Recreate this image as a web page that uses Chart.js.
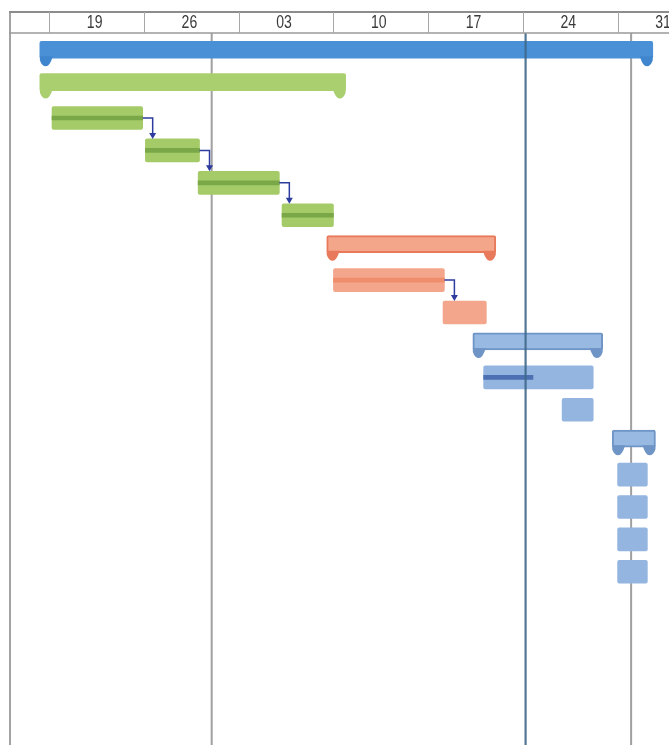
<!DOCTYPE html>
<html>
<head>
<meta charset="utf-8">
<style>
  html, body { margin: 0; padding: 0; background: #ffffff; }
  #wrap { width: 669px; height: 745px; position: relative; }
</style>
<script src="https://cdn.jsdelivr.net/npm/chart.js@4.4.1/dist/chart.umd.min.js"></script>
</head>
<body>
<div id="wrap"><canvas id="c"></canvas></div>
<script>
// ---------- DATA (days counted from the week labelled "19") ----------
const rowIds = ['1','2','3','4','5','6','7','8','9','10','11','12','13','14','15','16','17'];
const rowKinds = ['summary','summary','task','task','task','task','summary','task','task','summary','task','task','summary','task','task','task','task'];
const rowGroups = ['project','green','green','green','green','green','orange','orange','orange','blue','blue','blue','blue','blue','blue','blue','blue'];
const startDays = [-0.7, -0.7, 0.2, 7.1, 11.0, 17.2, 20.5, 21.0, 29.1, 31.3, 32.1, 37.9, 41.6, 42.0, 42.0, 42.0, 42.0];
const endDays   = [44.6, 21.9, 6.9, 11.1, 17.0, 21.0, 33.0, 29.2, 32.3, 40.9, 40.2, 40.2, 44.8, 44.2, 44.2, 44.2, 44.2];
const progressPct = [0, 0, 100, 100, 100, 100, 0, 100, 0, 0, 45, 0, 0, 0, 0, 0, 0];
const links = [[2, 3], [3, 4], [4, 5], [7, 8]];
const weekTickDays = [0, 7, 14, 21, 28, 35, 42];
const weekTickLabels = ['19', '26', '03', '10', '17', '24', '31'];
const monthLineDays = [12, 43];
const currentDay = 35.2;
const axisMinDay = -2.98;
const axisMaxDay = 45.8;

// ---------- STYLES ----------
const palette = {
  project: { summary: '#4a90d6', border: '#3f86cf', task: '#4a90d6', prog: '#2f6fb0' },
  green:   { summary: '#a9cf6f', border: '#a9cf6f', task: '#a5cb68', prog: '#7aa747' },
  orange:  { summary: '#f4a68b', border: '#e8795a', task: '#f4a68c', prog: '#ef8d6c' },
  blue:    { summary: '#98b9e1', border: '#6f94c6', task: '#93b5df', prog: '#4d70b2' }
};
const HEADER_TOP = 12, HEADER_BOTTOM = 33;
const SUMMARY_SHIFT = -3.5;

const summaryData = rowIds.map((_, i) => rowKinds[i] === 'summary' ? [startDays[i], endDays[i]] : null);
const taskData = rowIds.map((_, i) => rowKinds[i] === 'task' ? [startDays[i], endDays[i]] : null);
const progressData = rowIds.map((_, i) => (rowKinds[i] === 'task' && progressPct[i] > 0)
  ? [startDays[i], startDays[i] + (endDays[i] - startDays[i]) * progressPct[i] / 100] : null);

const ganttPlugin = {
  id: 'gantt',
  afterDatasetsUpdate(chart) {
    const meta = chart.getDatasetMeta(0);
    meta.data.forEach((el, i) => { if (summaryData[i]) el.y += SUMMARY_SHIFT; });
  },
  beforeDatasetsDraw(chart) {
    const { ctx, scales: { x }, chartArea } = chart;
    const H = chart.height;
    ctx.save();
    ctx.strokeStyle = '#a3a3a3';
    ctx.lineWidth = 2;
    ctx.beginPath();
    ctx.moveTo(chartArea.left + 1, HEADER_TOP);
    ctx.lineTo(chartArea.left + 1, H);
    ctx.stroke();
    ctx.strokeStyle = '#a0a0a0';
    ctx.lineWidth = 2;
    monthLineDays.forEach(d => {
      const px = x.getPixelForValue(d);
      ctx.beginPath();
      ctx.moveTo(px, HEADER_BOTTOM);
      ctx.lineTo(px, H);
      ctx.stroke();
    });
    ctx.restore();
  },
  afterDatasetsDraw(chart) {
    const { ctx, scales: { x } } = chart;
    const H = chart.height;
    const sMeta = chart.getDatasetMeta(0);
    const tMeta = chart.getDatasetMeta(1);
    ctx.save();
    sMeta.data.forEach((el, i) => {
      if (!summaryData[i]) return;
      const L = Math.min(el.x, el.base), R = Math.max(el.x, el.base);
      const by = el.y + el.height / 2;
      const c = palette[rowGroups[i]];
      ctx.fillStyle = c.border;
      ctx.beginPath();
      ctx.moveTo(L, by - 2);
      ctx.lineTo(L, by + 2);
      ctx.quadraticCurveTo(L + 2, by + 8, L + 6, by + 8);
      ctx.quadraticCurveTo(L + 10, by + 8, L + 13, by - 2);
      ctx.closePath();
      ctx.fill();
      ctx.beginPath();
      ctx.moveTo(R, by - 2);
      ctx.lineTo(R, by + 2);
      ctx.quadraticCurveTo(R - 2, by + 8, R - 6, by + 8);
      ctx.quadraticCurveTo(R - 10, by + 8, R - 13, by - 2);
      ctx.closePath();
      ctx.fill();
    });
    ctx.strokeStyle = '#2d3c9e';
    ctx.fillStyle = '#2d3c9e';
    ctx.lineWidth = 1.5;
    links.forEach(([a, b]) => {
      const ea = tMeta.data[a], eb = tMeta.data[b];
      const x1 = Math.max(ea.x, ea.base), y1 = ea.y;
      const xa = x1 + 10;
      const yTop = eb.y - eb.height / 2;
      ctx.beginPath();
      ctx.moveTo(x1, y1);
      ctx.lineTo(xa, y1);
      ctx.lineTo(xa, yTop - 5);
      ctx.stroke();
      ctx.beginPath();
      ctx.moveTo(xa - 3.5, yTop - 6);
      ctx.lineTo(xa + 3.5, yTop - 6);
      ctx.lineTo(xa, yTop);
      ctx.closePath();
      ctx.fill();
    });
    const cx = x.getPixelForValue(currentDay);
    ctx.strokeStyle = 'rgba(62,104,138,0.9)';
    ctx.lineWidth = 2.2;
    ctx.beginPath();
    ctx.moveTo(cx, HEADER_BOTTOM);
    ctx.lineTo(cx, H);
    ctx.stroke();
    ctx.restore();
  },
  afterDraw(chart) {
    const { ctx, scales: { x }, chartArea } = chart;
    const W = chart.width;
    ctx.save();
    ctx.strokeStyle = '#8c8c8c';
    ctx.lineWidth = 2;
    ctx.beginPath();
    ctx.moveTo(chartArea.left, HEADER_TOP);
    ctx.lineTo(W, HEADER_TOP);
    ctx.stroke();
    ctx.lineWidth = 1.5;
    ctx.strokeStyle = '#9a9a9a';
    ctx.beginPath();
    ctx.moveTo(chartArea.left, HEADER_BOTTOM);
    ctx.lineTo(W, HEADER_BOTTOM);
    ctx.stroke();
    ctx.lineWidth = 1;
    ctx.strokeStyle = '#a8a8a8';
    weekTickDays.forEach(d => {
      const px = Math.round(x.getPixelForValue(d)) + 0.5;
      ctx.beginPath();
      ctx.moveTo(px, HEADER_TOP);
      ctx.lineTo(px, HEADER_BOTTOM);
      ctx.stroke();
    });
    // condensed labels
    ctx.fillStyle = '#3a3a3a';
    ctx.font = '18px "Liberation Sans", "DejaVu Sans", sans-serif';
    ctx.textAlign = 'center';
    ctx.textBaseline = 'middle';
    const sx = 0.78;
    weekTickDays.forEach((d, i) => {
      const px = x.getPixelForValue(d + 3.5) - 2;
      ctx.save();
      ctx.translate(px, (HEADER_TOP + HEADER_BOTTOM) / 2 + 1);
      ctx.scale(sx, 1);
      ctx.fillText(weekTickLabels[i], 0, 0);
      ctx.restore();
    });
    ctx.restore();
  }
};

new Chart(document.getElementById('c'), {
  type: 'bar',
  data: {
    labels: rowIds,
    datasets: [
      {
        label: 'Summary',
        data: summaryData,
        barThickness: 17,
        grouped: false,
        backgroundColor: ctx => palette[rowGroups[ctx.dataIndex]].summary,
        borderColor: ctx => palette[rowGroups[ctx.dataIndex]].border,
        borderWidth: ctx => (rowGroups[ctx.dataIndex] === 'orange' || rowGroups[ctx.dataIndex] === 'blue') ? 2 : 0,
        borderSkipped: false,
        borderRadius: 2,
        order: 3
      },
      {
        label: 'Tasks',
        data: taskData,
        barThickness: 23,
        grouped: false,
        backgroundColor: ctx => palette[rowGroups[ctx.dataIndex]].task,
        borderSkipped: false,
        borderRadius: 2,
        order: 2
      },
      {
        label: 'Progress',
        data: progressData,
        barThickness: 4,
        grouped: false,
        backgroundColor: ctx => palette[rowGroups[ctx.dataIndex]].prog,
        borderSkipped: false,
        order: 1
      }
    ]
  },
  options: {
    indexAxis: 'y',
    responsive: true,
    maintainAspectRatio: false,
    animation: false,
    events: [],
    layout: { padding: { left: 9, right: 0, top: 37, bottom: 157 } },
    plugins: { legend: { display: false }, tooltip: { enabled: false } },
    scales: {
      x: { type: 'linear', min: axisMinDay, max: axisMaxDay, display: false },
      y: { type: 'category', display: false }
    }
  },
  plugins: [ganttPlugin]
});
</script>
</body>
</html>
